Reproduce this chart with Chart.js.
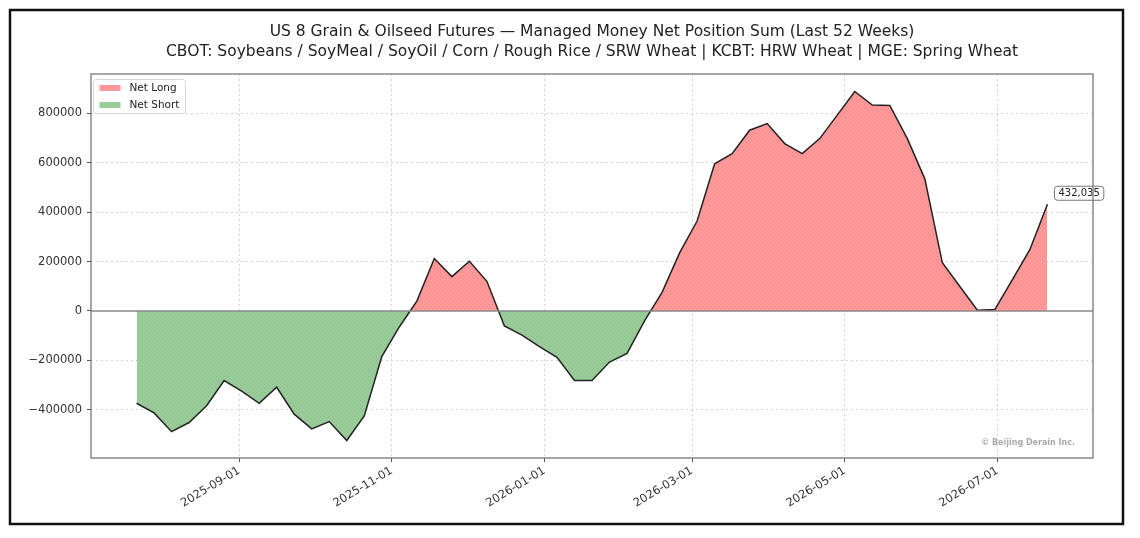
<!DOCTYPE html>
<html>
<head>
<meta charset="utf-8">
<script src="https://cdn.jsdelivr.net/npm/chart.js@4.4.0/dist/chart.umd.min.js"></script>
<style>
  html, body { margin: 0; padding: 0; background: #fff; }
  canvas { display: block; }
</style>
</head>
<body>
<canvas id="cotChart" width="1140" height="538"></canvas>
<script>
// weekly report dates (Tuesdays)
const weeks = [
  "2025-07-22", "2025-07-29", "2025-08-05", "2025-08-12", "2025-08-19", "2025-08-26",
  "2025-09-02", "2025-09-09", "2025-09-16", "2025-09-23", "2025-09-30",
  "2025-10-07", "2025-10-14", "2025-10-21", "2025-10-28",
  "2025-11-04", "2025-11-11", "2025-11-18", "2025-11-25",
  "2025-12-02", "2025-12-09", "2025-12-16", "2025-12-23", "2025-12-30",
  "2026-01-06", "2026-01-13", "2026-01-20", "2026-01-27",
  "2026-02-03", "2026-02-10", "2026-02-17", "2026-02-24",
  "2026-03-03", "2026-03-10", "2026-03-17", "2026-03-24", "2026-03-31",
  "2026-04-07", "2026-04-14", "2026-04-21", "2026-04-28",
  "2026-05-05", "2026-05-12", "2026-05-19", "2026-05-26",
  "2026-06-02", "2026-06-09", "2026-06-16", "2026-06-23", "2026-06-30",
  "2026-07-07", "2026-07-14", "2026-07-21"
];

// managed money net position, sum of 8 contracts
const netPosition = [
  -374000, -413000, -489000, -452000, -384000, -282000,
  -325000, -374000, -309000, -418000, -478000,
  -448000, -525000, -425000, -185000,
  -65000, 40000, 212000, 139000,
  201000, 120000, -61000, -98000, -145000,
  -188000, -282000, -282000, -207000,
  -172000, -40000, 75000, 235000,
  364000, 596000, 637000, 732000, 759000,
  678000, 637000, 698000, 793000,
  889000, 834000, 832000, 698000,
  535000, 195000, 99000, 3000, 6000,
  127000, 249000, 432035
];

const xTickDates = ["2025-09-01", "2025-11-01", "2026-01-01", "2026-03-01", "2026-05-01", "2026-07-01"];
const yTickValues = [-400000, -200000, 0, 200000, 400000, 600000, 800000];
const legendLabels = ["Net Long", "Net Short"];

const titleLines = [
  "US 8 Grain & Oilseed Futures \u2014 Managed Money Net Position Sum (Last 52 Weeks)",
  "CBOT: Soybeans / SoyMeal / SoyOil / Corn / Rough Rice / SRW Wheat | KCBT: HRW Wheat | MGE: Spring Wheat"
];

const FONT = "'DejaVu Sans', 'Liberation Sans', sans-serif";

// date string <-> day number
const toDay = (s) => Date.UTC(+s.slice(0, 4), +s.slice(5, 7) - 1, +s.slice(8, 10)) / 864e5;
const dayToStr = (d) => new Date(Math.round(d) * 864e5).toISOString().slice(0, 10);

const points = weeks.map((d, i) => ({ x: toDay(d), y: netPosition[i] }));

// matplotlib style 5% margins
const xs = points.map((p) => p.x);
const xSpan = Math.max(...xs) - Math.min(...xs);
const xMin = Math.min(...xs) - xSpan * 0.05;
const xMax = Math.max(...xs) + xSpan * 0.05;
const ySpan = Math.max(...netPosition) - Math.min(...netPosition);
const yMin = Math.min(...netPosition) - ySpan * 0.05;
const yMax = Math.max(...netPosition) + ySpan * 0.05;

// dithered fill like the original gif
function stipple(base, dot) {
  const c = document.createElement("canvas");
  c.width = 4;
  c.height = 4;
  const g = c.getContext("2d");
  g.fillStyle = base;
  g.fillRect(0, 0, 4, 4);
  g.fillStyle = dot;
  g.fillRect(0, 0, 1, 1);
  g.fillRect(2, 2, 1, 1);
  return g.createPattern(c, "repeat");
}

const longColor = "#ff9999";
const shortColor = "#99cc99";
const longFill = stipple(longColor, "#ee8a8a");
const shortFill = stipple(shortColor, "#8abd8a");
const gridColor = "rgba(205,185,185,0.7)";

const extras = {
  id: "extras",
  beforeDraw(chart) {
    const ctx = chart.ctx;
    ctx.save();
    ctx.fillStyle = "#fff";
    ctx.fillRect(0, 0, chart.width, chart.height);
    ctx.restore();
  },
  afterDatasetsDraw(chart) {
    const { ctx, chartArea: a, scales: { y } } = chart;
    ctx.save();
    // zero line
    const y0 = y.getPixelForValue(0);
    ctx.strokeStyle = "#888";
    ctx.lineWidth = 1.5;
    ctx.beginPath();
    ctx.moveTo(a.left, y0);
    ctx.lineTo(a.right, y0);
    ctx.stroke();

    // latest value tag
    const meta = chart.getDatasetMeta(0);
    const last = meta.data[meta.data.length - 1];
    const txt = netPosition[netPosition.length - 1].toLocaleString("en-US");
    ctx.font = "10px " + FONT;
    const w = ctx.measureText(txt).width;
    const bx = last.x + 7, bh = 14, by = last.y - 18, bw = w + 8;
    ctx.fillStyle = "rgba(255,255,255,0.9)";
    ctx.strokeStyle = "#777";
    ctx.lineWidth = 1;
    ctx.beginPath();
    ctx.roundRect(bx, by, bw, bh, 3);
    ctx.fill();
    ctx.stroke();
    ctx.fillStyle = "#222";
    ctx.textBaseline = "middle";
    ctx.fillText(txt, bx + 4, by + bh / 2 + 0.5);

    // watermark
    ctx.font = "bold 8px " + FONT;
    ctx.fillStyle = "#aaa";
    ctx.textAlign = "right";
    ctx.fillText("\u00a9 Beijing Derain Inc.", a.right - 18, a.bottom - 15);
    ctx.restore();
  },
  afterDraw(chart) {
    const { ctx, chartArea: a } = chart;
    ctx.save();
    // legend, top-left inside the axes
    ctx.fillStyle = "rgba(255,255,255,0.8)";
    ctx.strokeStyle = "#d6d6d6";
    ctx.lineWidth = 1;
    ctx.beginPath();
    ctx.roundRect(a.left + 2.5, a.top + 5.5, 92, 34, 3);
    ctx.fill();
    ctx.stroke();
    const swatches = [longColor, shortColor];
    ctx.font = "10.5px " + FONT;
    ctx.textBaseline = "middle";
    legendLabels.forEach((label, i) => {
      const cy = a.top + 14 + i * 17;
      ctx.fillStyle = swatches[i];
      ctx.fillRect(a.left + 8.5, cy - 3, 21, 6);
      ctx.fillStyle = "#222";
      ctx.fillText(label, a.left + 38.5, cy + 0.5);
    });

    // axes spines
    ctx.strokeStyle = "#777";
    ctx.lineWidth = 1.3;
    ctx.strokeRect(a.left, a.top, a.right - a.left, a.bottom - a.top);
    // outer frame
    ctx.strokeStyle = "#111";
    ctx.lineWidth = 2.5;
    ctx.strokeRect(10, 10, 1113, 514);
    ctx.restore();
  }
};

new Chart(document.getElementById("cotChart"), {
  type: "line",
  data: {
    datasets: [
      {
        label: "Net Position",
        data: points,
        borderColor: "#222",
        borderWidth: 1.5,
        pointRadius: 0,
        tension: 0,
        fill: { target: "origin", above: longFill, below: shortFill },
      },
    ],
  },
  options: {
    responsive: false,
    animation: false,
    layout: { padding: { left: 0, right: 47, top: 0, bottom: 0 } },
    scales: {
      x: {
        type: "linear",
        min: xMin,
        max: xMax,
        afterBuildTicks: (s) => {
          s.ticks = xTickDates.map((d) => ({ value: toDay(d) }));
        },
        afterFit: (s) => {
          s.height = 80;
        },
        ticks: {
          autoSkip: false,
          minRotation: 31,
          maxRotation: 31,
          padding: 2,
          color: "#333",
          font: { family: FONT, size: 11.5 },
          callback: (v) => dayToStr(v),
        },
        grid: {
          color: gridColor,
          lineWidth: 1,
          tickLength: 4,
          tickColor: "#555",
          tickBorderDash: [],
        },
        border: { display: false, dash: [2, 3] },
      },
      y: {
        min: yMin,
        max: yMax,
        afterBuildTicks: (s) => {
          s.ticks = yTickValues.map((v) => ({ value: v }));
        },
        afterFit: (s) => {
          s.width = 91;
        },
        ticks: {
          padding: 5,
          color: "#333",
          font: { family: FONT, size: 11.5 },
          callback: (v) => (v < 0 ? "\u2212" + Math.abs(v) : String(v)),
        },
        grid: {
          color: (c) => (c.tick && c.tick.value === 0 ? "transparent" : gridColor),
          lineWidth: 1,
          tickLength: 4,
          tickColor: "#555",
          tickBorderDash: [],
        },
        border: { display: false, dash: [2, 3] },
      },
    },
    plugins: {
      title: {
        display: true,
        fullSize: false,
        text: titleLines,
        color: "#222",
        font: { family: FONT, size: 15.5, weight: "normal", lineHeight: 1.29 },
        padding: { top: 22, bottom: 12 },
      },
      legend: { display: false },
      tooltip: { enabled: false },
    },
  },
  plugins: [extras],
});
</script>
</body>
</html>
